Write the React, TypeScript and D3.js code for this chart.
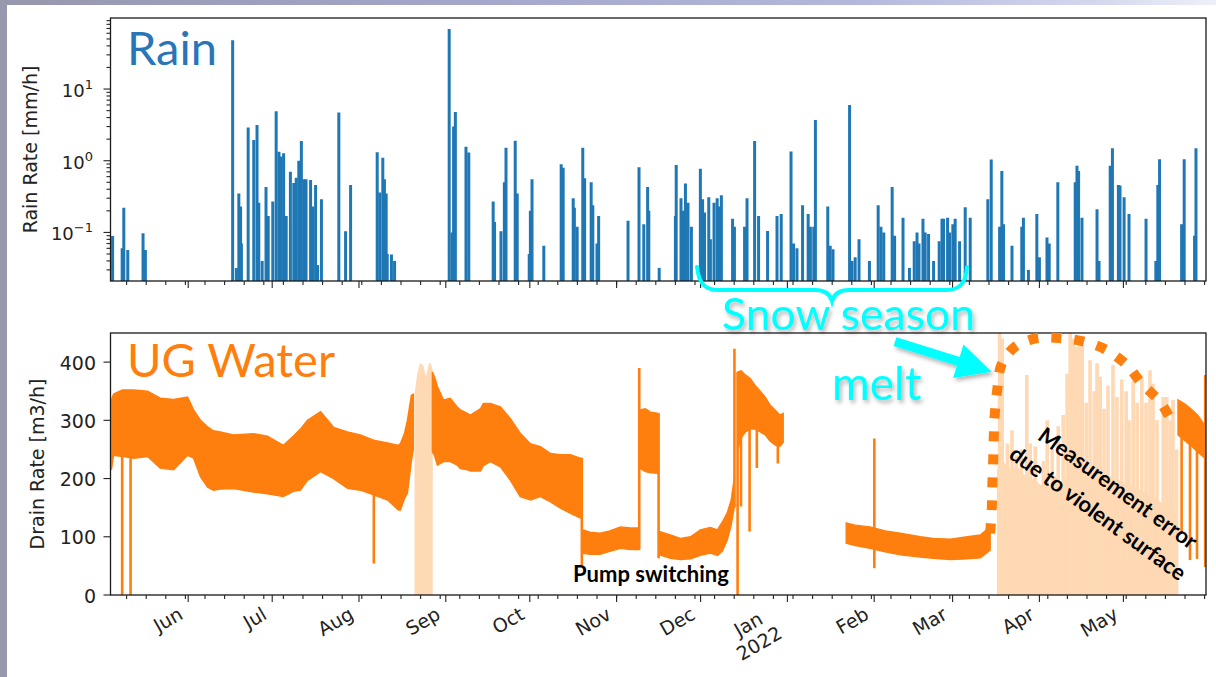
import React from "react";
import * as d3 from "d3";

const parseHour = d3.timeParse("%Y-%m-%d %H");
const t = (s: string) => parseHour(s) as Date;

// Hourly rain peaks: [time, mm/h]
const rainEvents: [string, number][] = [
  ["2021-05-05 00", 0.089], ["2021-05-08 10", 0.06], ["2021-05-09 00", 0.22], ["2021-05-10 10", 0.057],
  ["2021-05-15 21", 0.097], ["2021-05-16 17", 0.057],
  ["2021-06-16 21", 48], ["2021-06-18 05", 0.032], ["2021-06-19 02", 0.35], ["2021-06-19 17", 0.23],
  ["2021-06-20 00", 0.07], ["2021-06-22 10", 2.9], ["2021-06-24 10", 1.94], ["2021-06-25 14", 3.15],
  ["2021-06-26 05", 0.26], ["2021-06-27 10", 0.04], ["2021-06-28 19", 0.43], ["2021-06-29 14", 0.17],
  ["2021-07-01 05", 0.27], ["2021-07-02 10", 4.9], ["2021-07-03 10", 1.33], ["2021-07-04 05", 1.15],
  ["2021-07-05 02", 1.27], ["2021-07-06 00", 0.17], ["2021-07-07 12", 0.7], ["2021-07-08 17", 0.49],
  ["2021-07-09 14", 0.58], ["2021-07-10 12", 1.0], ["2021-07-11 10", 1.88], ["2021-07-12 07", 0.55],
  ["2021-07-13 02", 0.55], ["2021-07-14 17", 0.54], ["2021-07-15 12", 0.23], ["2021-07-16 12", 0.46],
  ["2021-07-17 05", 0.035], ["2021-07-18 14", 0.29], ["2021-07-24 19", 4.7], ["2021-07-27 05", 0.104],
  ["2021-07-29 00", 0.46],
  ["2021-08-07 12", 1.31], ["2021-08-08 10", 0.36], ["2021-08-09 12", 1.1], ["2021-08-10 02", 0.55],
  ["2021-08-10 17", 0.35], ["2021-08-11 02", 0.05], ["2021-08-12 14", 0.049], ["2021-08-13 17", 0.04],
  ["2021-09-02 05", 69], ["2021-09-03 05", 0.1], ["2021-09-03 19", 3.0], ["2021-09-04 10", 4.8],
  ["2021-09-08 05", 1.57], ["2021-09-09 05", 1.3], ["2021-09-17 22", 0.27], ["2021-09-18 10", 0.14],
  ["2021-09-20 17", 0.104], ["2021-09-21 22", 0.5], ["2021-09-22 12", 1.52], ["2021-09-25 19", 1.9],
  ["2021-09-26 12", 0.35], ["2021-09-30 19", 0.05],
  ["2021-10-01 05", 0.2], ["2021-10-01 19", 0.55], ["2021-10-06 00", 0.065], ["2021-10-12 05", 0.89],
  ["2021-10-12 22", 0.8], ["2021-10-16 12", 0.3], ["2021-10-16 22", 0.22], ["2021-10-17 22", 0.12],
  ["2021-10-19 22", 1.52], ["2021-10-20 14", 0.57], ["2021-10-22 22", 0.5], ["2021-10-23 12", 0.24],
  ["2021-10-25 00", 0.07], ["2021-10-25 14", 0.17],
  ["2021-11-05 02", 0.145], ["2021-11-09 00", 0.81], ["2021-11-10 17", 0.13], ["2021-11-12 02", 0.43],
  ["2021-11-12 12", 0.2], ["2021-11-16 05", 0.032], ["2021-11-22 00", 0.17], ["2021-11-22 07", 0.87],
  ["2021-11-24 00", 0.3], ["2021-11-24 14", 0.2], ["2021-11-25 14", 0.48], ["2021-11-26 12", 0.26],
  ["2021-11-27 17", 0.12], ["2021-11-30 22", 0.77],
  ["2021-12-01 17", 0.29], ["2021-12-02 10", 0.19], ["2021-12-03 22", 0.31], ["2021-12-04 12", 0.08],
  ["2021-12-05 19", 0.26], ["2021-12-06 22", 0.3], ["2021-12-07 17", 0.23], ["2021-12-08 10", 0.33],
  ["2021-12-12 10", 0.155], ["2021-12-13 02", 0.12], ["2021-12-16 17", 0.12], ["2021-12-17 14", 0.3],
  ["2021-12-20 07", 1.88], ["2021-12-21 17", 0.17], ["2021-12-24 22", 0.105], ["2021-12-28 07", 0.17],
  ["2021-12-29 19", 0.18],
  ["2022-01-02 07", 1.34], ["2022-01-03 05", 0.07], ["2022-01-04 10", 0.06], ["2022-01-06 10", 0.24],
  ["2022-01-08 10", 0.18], ["2022-01-09 05", 0.12], ["2022-01-10 10", 0.12], ["2022-01-11 00", 3.7],
  ["2022-01-15 10", 0.23], ["2022-01-16 07", 0.065], ["2022-01-17 07", 0.058], ["2022-01-23 05", 6.0],
  ["2022-01-24 02", 0.04], ["2022-01-25 05", 0.045], ["2022-01-26 14", 0.08], ["2022-01-30 07", 0.04],
  ["2022-02-02 10", 0.24], ["2022-02-03 10", 0.12], ["2022-02-04 10", 0.1], ["2022-02-07 10", 0.43],
  ["2022-02-08 07", 0.09], ["2022-02-11 07", 0.16], ["2022-02-13 14", 0.032], ["2022-02-15 07", 0.075],
  ["2022-02-16 07", 0.1], ["2022-02-17 00", 0.07], ["2022-02-18 10", 0.155], ["2022-02-19 05", 0.1],
  ["2022-02-20 10", 0.095], ["2022-02-22 05", 0.04], ["2022-02-24 05", 0.075], ["2022-02-25 05", 0.155],
  ["2022-02-25 19", 0.155], ["2022-02-27 05", 0.16], ["2022-02-27 22", 0.1],
  ["2022-03-01 02", 0.13], ["2022-03-01 22", 0.155], ["2022-03-03 12", 0.075], ["2022-03-05 12", 0.225],
  ["2022-03-07 07", 0.16], ["2022-03-13 14", 0.29], ["2022-03-14 19", 1.04], ["2022-03-17 19", 0.12],
  ["2022-03-18 14", 0.72], ["2022-03-19 05", 0.13], ["2022-03-22 05", 0.065], ["2022-03-25 17", 0.12],
  ["2022-03-26 07", 0.16], ["2022-03-28 02", 0.03], ["2022-03-31 02", 0.18],
  ["2022-04-01 00", 0.045], ["2022-04-03 17", 0.085], ["2022-04-04 12", 0.07], ["2022-04-07 14", 0.5],
  ["2022-04-13 19", 0.5], ["2022-04-14 10", 0.85], ["2022-04-15 00", 0.72], ["2022-04-16 05", 0.16],
  ["2022-04-21 14", 0.21], ["2022-04-22 07", 0.04], ["2022-04-26 07", 0.85], ["2022-04-27 02", 1.49],
  ["2022-04-29 05", 0.46], ["2022-04-29 19", 0.45],
  ["2022-05-01 06", 0.31], ["2022-05-03 00", 0.18], ["2022-05-09 02", 0.155], ["2022-05-12 14", 0.04],
  ["2022-05-13 07", 0.46], ["2022-05-13 22", 1.05], ["2022-05-21 19", 0.13], ["2022-05-22 17", 1.05],
  ["2022-05-26 10", 0.09], ["2022-05-26 22", 1.49],
];

// Drain rate envelopes: [time, low, high] in m3/h
const drainSpring: [string, number, number][] = [
  ["2021-05-04 14", 215, 335], ["2021-05-05 08", 240, 345], ["2021-05-08 12", 238, 352],
  ["2021-05-12 12", 235, 352], ["2021-05-17 12", 238, 350], ["2021-05-22 00", 218, 338],
  ["2021-05-26 19", 215, 336], ["2021-05-31 19", 240, 340], ["2021-06-02 22", 235, 318],
  ["2021-06-05 10", 203, 300], ["2021-06-07 22", 185, 289], ["2021-06-10 00", 180, 282],
  ["2021-06-12 12", 182, 280], ["2021-06-17 05", 183, 275], ["2021-06-24 07", 177, 277],
  ["2021-06-29 07", 174, 273], ["2021-07-05 00", 169, 257], ["2021-07-08 14", 178, 273],
  ["2021-07-11 02", 180, 285], ["2021-07-13 14", 197, 300], ["2021-07-18 07", 212, 315],
  ["2021-07-22 22", 200, 288], ["2021-07-27 22", 183, 280], ["2021-08-01 12", 180, 275],
  ["2021-08-06 05", 172, 266], ["2021-08-11 05", 163, 261], ["2021-08-15 02", 146, 257],
  ["2021-08-15 19", 146, 260], ["2021-08-17 05", 165, 277], ["2021-08-18 07", 175, 300],
  ["2021-08-19 17", 230, 343], ["2021-08-20 10", 250, 345],
];
const drainAutumn: [string, number, number][] = [
  ["2021-08-27 05", 246, 383], ["2021-08-27 23", 240, 375], ["2021-08-29 00", 223, 358],
  ["2021-08-31 05", 229, 335], ["2021-09-02 14", 229, 338], ["2021-09-05 02", 223, 323],
  ["2021-09-06 05", 217, 318], ["2021-09-08 17", 215, 312], ["2021-09-09 19", 213, 309],
  ["2021-09-13 10", 213, 320], ["2021-09-14 10", 222, 329], ["2021-09-16 22", 229, 329],
  ["2021-09-20 12", 220, 323], ["2021-09-24 02", 197, 303], ["2021-09-27 14", 169, 278],
  ["2021-10-01 05", 163, 260], ["2021-10-04 19", 169, 255], ["2021-10-08 10", 160, 243],
  ["2021-10-11 22", 149, 241], ["2021-10-15 12", 140, 241], ["2021-10-19 02", 132, 235],
  ["2021-10-19 14", 132, 235],
];
const drainPumpLow1: [string, number, number][] = [
  ["2021-10-19 17", 72, 112], ["2021-10-22 12", 70, 108], ["2021-10-26 02", 70, 106],
  ["2021-10-29 14", 75, 110], ["2021-11-02 10", 80, 117], ["2021-11-05 22", 78, 115],
  ["2021-11-09 00", 78, 115],
];
const drainPumpHigh: [string, number, number][] = [
  ["2021-11-09 05", 218, 318], ["2021-11-11 07", 212, 320], ["2021-11-13 02", 210, 314],
  ["2021-11-15 19", 209, 312],
];
const drainPumpLow2: [string, number, number][] = [
  ["2021-11-16 05", 69, 109], ["2021-11-20 05", 63, 103], ["2021-11-23 19", 61, 97],
  ["2021-11-27 10", 62, 100], ["2021-11-30 22", 68, 112], ["2021-12-04 12", 72, 116],
  ["2021-12-07 00", 68, 112], ["2021-12-08 17", 75, 125], ["2021-12-10 12", 94, 141],
  ["2021-12-11 22", 120, 163], ["2021-12-13 00", 150, 200],
];
const drainWinter: [string, number, number][] = [
  ["2021-12-14 07", 250, 383], ["2021-12-15 12", 270, 385], ["2021-12-17 00", 280, 378],
  ["2021-12-18 17", 285, 372], ["2021-12-20 12", 285, 360], ["2021-12-22 07", 280, 350],
  ["2021-12-24 02", 275, 340], ["2021-12-25 17", 265, 327], ["2021-12-27 12", 258, 318],
  ["2021-12-29 07", 255, 309], ["2021-12-30 12", 262, 312],
];
const drainLateWinter: [string, number, number][] = [
  ["2022-01-22 00", 89, 124], ["2022-01-25 05", 85, 120], ["2022-01-30 12", 80, 117],
  ["2022-02-04 23", 74, 110], ["2022-02-10 07", 69, 106], ["2022-02-17 12", 65, 100],
  ["2022-02-22 02", 63, 97], ["2022-02-28 05", 61, 96], ["2022-03-06 07", 62, 100],
  ["2022-03-10 22", 64, 103], ["2022-03-12 14", 70, 110], ["2022-03-14 10", 77, 117],
];
const drainLateMay: [string, number, number][] = [
  ["2022-05-20 12", 275, 335], ["2022-05-23 00", 265, 328], ["2022-05-25 12", 255, 318],
  ["2022-05-27 17", 245, 308], ["2022-05-30 05", 235, 290],
];
// Short excursions of the drain rate: [time, from, to]
const drainSpikes: [string, number, number][] = [
  ["2021-05-08 10", 0, 240], ["2021-05-11 10", 0, 238], ["2021-08-06 07", 54, 180],
  ["2021-10-19 14", 49, 235], ["2021-11-09 02", 78, 390], ["2021-11-16 00", 63, 312],
  ["2021-12-13 02", 150, 423], ["2021-12-14 05", 0, 383], ["2021-12-15 10", 152, 300],
  ["2021-12-18 12", 109, 300], ["2021-12-21 02", 218, 300], ["2021-12-28 14", 226, 270],
  ["2022-02-01 01", 46, 269], ["2022-05-21 19", 106, 320], ["2022-05-24 19", 60, 300],
  ["2022-05-27 07", 62, 290], ["2022-05-30 05", 48, 378],
];
// Unreliable readings (turbulent surface): [time, m3/h]
const surgeAugust: [string, number][] = [
  ["2021-08-20 20", 345], ["2021-08-21 19", 380], ["2021-08-22 19", 398], ["2021-08-23 22", 395],
  ["2021-08-24 22", 375], ["2021-08-26 00", 398], ["2021-08-26 17", 398], ["2021-08-27 08", 385],
];
const surgeSpringBase: [string, number][] = [
  ["2022-03-16 20", 215], ["2022-03-19 02", 230], ["2022-03-21 14", 215], ["2022-03-24 02", 220],
  ["2022-03-26 22", 205], ["2022-03-29 19", 200], ["2022-04-01 07", 190], ["2022-04-04 02", 185],
  ["2022-04-06 14", 205], ["2022-04-09 02", 190], ["2022-04-12 00", 215], ["2022-04-15 14", 200],
  ["2022-04-19 02", 210], ["2022-04-22 17", 200], ["2022-04-26 05", 205], ["2022-04-29 19", 195],
  ["2022-05-03 10", 190], ["2022-05-07 00", 180], ["2022-05-10 12", 170], ["2022-05-14 02", 160],
  ["2022-05-17 17", 150], ["2022-05-20 12", 130],
];
const surgeSpringPeaks: [string, number][] = [
  ["2022-03-17 19", 450], ["2022-03-18 17", 440], ["2022-03-20 14", 260], ["2022-03-22 05", 283],
  ["2022-03-23 17", 240], ["2022-03-25 12", 250], ["2022-03-27 12", 378], ["2022-03-28 17", 260],
  ["2022-03-30 12", 255], ["2022-04-02 10", 230], ["2022-04-03 19", 300], ["2022-04-05 14", 250],
  ["2022-04-07 17", 290], ["2022-04-09 12", 309], ["2022-04-10 22", 380], ["2022-04-12 00", 450],
  ["2022-04-13 02", 440], ["2022-04-14 02", 426], ["2022-04-15 05", 440], ["2022-04-16 07", 430],
  ["2022-04-17 17", 330], ["2022-04-19 02", 403], ["2022-04-20 14", 350], ["2022-04-21 14", 398],
  ["2022-04-22 17", 375], ["2022-04-24 02", 320], ["2022-04-25 12", 360], ["2022-04-27 07", 395],
  ["2022-04-28 17", 340], ["2022-04-30 10", 370], ["2022-05-02 00", 350], ["2022-05-03 00", 300],
  ["2022-05-04 12", 383], ["2022-05-05 22", 330], ["2022-05-07 14", 375], ["2022-05-09 02", 330],
  ["2022-05-10 12", 386], ["2022-05-11 14", 363], ["2022-05-13 00", 300], ["2022-05-15 05", 340],
  ["2022-05-16 12", 340], ["2022-05-17 17", 300], ["2022-05-18 17", 335], ["2022-05-20 00", 250],
];
// Outline of the snow-melt period
const meltOutline: [string, number][] = [
  ["2022-03-14 10", 106], ["2022-03-15 00", 149], ["2022-03-15 05", 192], ["2022-03-15 12", 232],
  ["2022-03-15 17", 272], ["2022-03-16 02", 312], ["2022-03-17 00", 355], ["2022-03-18 10", 395],
  ["2022-03-23 05", 426], ["2022-03-30 22", 441], ["2022-04-08 22", 441], ["2022-04-17 05", 435],
  ["2022-04-24 22", 421], ["2022-05-02 05", 395], ["2022-05-07 14", 363], ["2022-05-14 02", 332],
  ["2022-05-17 17", 303],
];

const drainTicks = [0, 100, 200, 300, 400];
const rainMajorTicks = [0.1, 1, 10];
const rainTickExponents = ["\u22121", "0", "1"];

const BLUE = "#1f77b4";
const ORANGE = "#ff7f0e";
const PEACH = "#ffd8b4";
const CYAN = "#00ffff";
const TICK_FONT = "'DejaVu Sans', sans-serif";
const NOTE_FONT = "Lato, 'Open Sans', sans-serif";

export default function App() {
  const L = 110.5, R = 1206;
  const top = { y0: 18, y1: 281 };
  const bot = { y0: 333, y1: 595 };

  const x = d3.scaleTime()
    .domain([new Date(2021, 4, 4, 6), new Date(2022, 4, 30, 12)])
    .range([L, R]);
  const yRain = d3.scaleLog().domain([0.021, 98]).range([top.y1, top.y0]);
  const yDrain = d3.scaleLinear().domain([0, 450]).range([bot.y1, bot.y0]);

  const [d0, d1] = x.domain();
  const months = d3.timeMonth.range(d0, d1);
  const mondays = d3.timeMonday.range(d0, d1);

  const band = d3.area<[string, number, number]>()
    .x(d => x(t(d[0])))
    .y0(d => yDrain(d[1]))
    .y1(d => yDrain(d[2]));
  const surge = d3.area<[string, number]>()
    .x(d => x(t(d[0])))
    .y0(yDrain(0))
    .y1(d => yDrain(d[1]));
  const outline = d3.line<[string, number]>()
    .x(d => x(t(d[0])))
    .y(d => yDrain(d[1]))
    .curve(d3.curveCatmullRom.alpha(0.5));

  const rainMinor: number[] = [];
  for (let k = -2; k <= 1; k++) {
    for (let m = 2; m <= 9; m++) {
      const v = m * Math.pow(10, k);
      if (v >= 0.021 && v <= 98) rainMinor.push(v);
    }
  }

  const bands = [drainSpring, drainAutumn, drainPumpLow1, drainPumpHigh, drainPumpLow2,
    drainWinter, drainLateWinter, drainLateMay];

  const xTicks = (y: number) => (
    <g stroke="#222" strokeWidth={1.1}>
      {mondays.map((d, i) => (
        <line key={"m" + i} x1={x(d)} x2={x(d)} y1={y} y2={y + 4} />
      ))}
      {months.map((d, i) => (
        <line key={"M" + i} x1={x(d)} x2={x(d)} y1={y} y2={y + 7} />
      ))}
    </g>
  );

  // arrow geometry for the melt pointer
  const a0 = [895, 341.7], a1 = [991.7, 371.7];
  const len = Math.hypot(a1[0] - a0[0], a1[1] - a0[1]);
  const ux = (a1[0] - a0[0]) / len, uy = (a1[1] - a0[1]) / len;
  const nx = -uy, ny = ux;
  const hw = 4.6, headLen = 35, headW = 17.5;
  const bx = a1[0] - ux * headLen, by = a1[1] - uy * headLen;
  const arrowPts = [
    [a0[0] + nx * hw, a0[1] + ny * hw],
    [bx + nx * hw, by + ny * hw],
    [bx + nx * headW, by + ny * headW],
    [a1[0], a1[1]],
    [bx - nx * headW, by - ny * headW],
    [bx - nx * hw, by - ny * hw],
    [a0[0] - nx * hw, a0[1] - ny * hw],
  ].map(p => p.join(",")).join(" ");

  return (
    <svg width={1216} height={677} viewBox="0 0 1216 677"
      style={{ position: "absolute", left: 0, top: 0, display: "block" }}>
      <defs>
        <linearGradient id="slideTop" x1="0" x2="1" y1="0" y2="0">
          <stop offset="0" stopColor="#9797ad" />
          <stop offset="0.35" stopColor="#a2a5c8" />
          <stop offset="0.7" stopColor="#b3b7dc" />
          <stop offset="0.9" stopColor="#d3d7ee" />
          <stop offset="1" stopColor="#eef0f8" />
        </linearGradient>
        <filter id="softShadow" x="-20%" y="-30%" width="140%" height="170%">
          <feDropShadow dx="2" dy="3" stdDeviation="2" floodColor="#000" floodOpacity="0.3" />
        </filter>
        <clipPath id="rainClip">
          <rect x={L} y={top.y0} width={R - L} height={top.y1 - top.y0} />
        </clipPath>
        <clipPath id="drainClip">
          <rect x={L} y={bot.y0} width={R - L} height={bot.y1 - bot.y0} />
        </clipPath>
      </defs>

      {/* slide backdrop */}
      <rect x={0} y={0} width={1216} height={677} fill="#ffffff" />
      <rect x={0} y={0} width={1216} height={5} fill="url(#slideTop)" />
      <rect x={0} y={0} width={7} height={677} fill="#9899ae" />

      {/* ---------- rain panel ---------- */}
      <g clipPath="url(#rainClip)" stroke={BLUE} strokeWidth={3}>
        {rainEvents.map(([d, v], i) => (
          <line key={i} x1={x(t(d))} x2={x(t(d))} y1={top.y1} y2={yRain(v)} />
        ))}
      </g>
      <rect x={L} y={top.y0} width={R - L} height={top.y1 - top.y0}
        fill="none" stroke="#1a1a1a" strokeWidth={1.3} />
      {xTicks(top.y1)}
      <g stroke="#222" strokeWidth={1.1}>
        {rainMinor.map((v, i) => (
          <line key={i} x1={L - 4} x2={L} y1={yRain(v)} y2={yRain(v)} />
        ))}
        {rainMajorTicks.map((v, i) => (
          <line key={"M" + i} x1={L - 7} x2={L} y1={yRain(v)} y2={yRain(v)} />
        ))}
      </g>
      <g fontFamily={TICK_FONT} fontSize={18} fill="#222">
        {rainMajorTicks.map((v, i) => (
          <text key={i} x={93} y={yRain(v) + 8} textAnchor="end">
            10<tspan dy={-8} fontSize={13}>{rainTickExponents[i]}</tspan>
          </text>
        ))}
        <text transform={`translate(36.5,${(top.y0 + top.y1) / 2}) rotate(-90)`}
          textAnchor="middle" fontSize={19}>Rain Rate [mm/h]</text>
      </g>

      {/* ---------- drain panel ---------- */}
      <g clipPath="url(#drainClip)">
        <path d={surge(surgeAugust) || ""} fill={PEACH} />
        <path d={surge(surgeSpringBase) || ""} fill={PEACH} />
        <g stroke={PEACH} strokeWidth={3.6}>
          {surgeSpringPeaks.map(([d, v], i) => (
            <line key={i} x1={x(t(d))} x2={x(t(d))} y1={yDrain(0)} y2={yDrain(v)} />
          ))}
        </g>
        {bands.map((b, i) => (
          <path key={i} d={band(b) || ""} fill={ORANGE} stroke={ORANGE} strokeWidth={1.4} />
        ))}
        <g stroke={ORANGE} strokeWidth={2.6}>
          {drainSpikes.map(([d, lo, hi], i) => (
            <line key={i} x1={x(t(d))} x2={x(t(d))} y1={yDrain(lo)} y2={yDrain(hi)} />
          ))}
        </g>
      </g>
      <rect x={L} y={bot.y0} width={R - L} height={bot.y1 - bot.y0}
        fill="none" stroke="#1a1a1a" strokeWidth={1.3} />
      {xTicks(bot.y1)}
      <g stroke="#222" strokeWidth={1.1}>
        {drainTicks.map((v, i) => (
          <line key={i} x1={L - 7} x2={L} y1={yDrain(v)} y2={yDrain(v)} />
        ))}
      </g>
      <g fontFamily={TICK_FONT} fontSize={19} fill="#222">
        {drainTicks.map((v, i) => (
          <text key={i} x={96} y={yDrain(v) + 7.5} textAnchor="end">{v}</text>
        ))}
        <text transform={`translate(44,${(bot.y0 + bot.y1) / 2}) rotate(-90)`}
          textAnchor="middle">Drain Rate [m3/h]</text>
        {months.map((d, i) => {
          const isYear = d.getMonth() === 0;
          const tx = x(d);
          if (!isYear) {
            return (
              <g key={i} transform={`translate(${tx - 4},618) rotate(-30)`}>
                <text textAnchor="end">{d3.timeFormat("%b")(d)}</text>
              </g>
            );
          }
          return (
            <g key={i} transform={`translate(${tx - 15},618) rotate(-30)`}>
              <text x={-24} textAnchor="middle">{d3.timeFormat("%b")(d)}</text>
              <text y={22} textAnchor="end">{d3.timeFormat("%Y")(d)}</text>
            </g>
          );
        })}
      </g>

      {/* ---------- annotations ---------- */}
      <text x={127} y={65} fontFamily={NOTE_FONT} fontSize={47} fill="#2a75b8">Rain</text>
      <text x={127} y={377} fontFamily={NOTE_FONT} fontSize={47} fill={ORANGE}>UG Water</text>

      <path d="M697,267 C699,284 705,290 719,290 L815,290 C825,290 830,294 832,301 C834,294 839,290 849,290 L946,290 C960,290 966,283 967,267"
        fill="none" stroke={CYAN} strokeWidth={4} strokeLinecap="round" />
      <g filter="url(#softShadow)" fill={CYAN} fontFamily={NOTE_FONT} fontSize={46}>
        <text x={722} y={330} fontSize={44.5}>Snow season</text>
        <text x={832} y={400}>melt</text>
        <polygon points={arrowPts} />
      </g>

      <path d={outline(meltOutline) || ""} fill="none" stroke={ORANGE} strokeWidth={10}
        strokeDasharray="10 13" />

      <text x={573} y={582} fontFamily={NOTE_FONT} fontWeight={700} fontSize={22} fill="#000">
        Pump switching
      </text>
      <g fontFamily={NOTE_FONT} fontWeight={700} fontSize={22} fill="#000" textAnchor="middle">
        <text transform="translate(1118,488) rotate(36)" dy="0.36em">Measurement error</text>
        <text transform="translate(1098,513) rotate(36)" dy="0.36em">due to violent surface</text>
      </g>
    </svg>
  );
}
